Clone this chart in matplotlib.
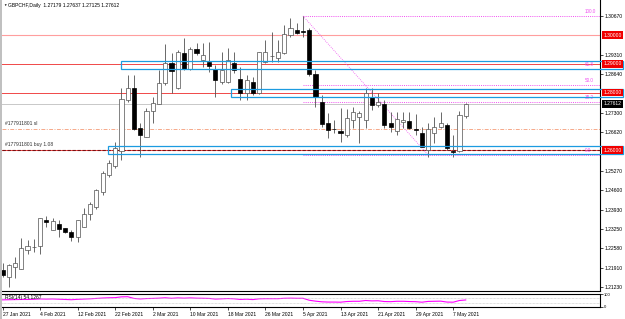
import matplotlib.pyplot as plt
from matplotlib.patches import Rectangle
import matplotlib.transforms as mtransforms

plt.rcParams['font.family'] = ['Liberation Sans', 'DejaVu Sans']

# daily bars, 27 Jan 2021 .. 11 May 2021
opens = [1.21822, 1.21578, 1.21927, 1.21857, 1.22519, 1.22624, 1.22659, 1.23565, 1.23216, 1.23425,
         1.23286, 1.23146, 1.22972, 1.23321, 1.23774, 1.24017, 1.24540, 1.25132, 1.25445, 1.25968,
         1.27744, 1.28162, 1.26769, 1.26455, 1.27361, 1.27605, 1.28337, 1.29033, 1.28162, 1.29381,
         1.28824, 1.29521, 1.29137, 1.29068, 1.28824, 1.28371, 1.28371, 1.29033, 1.28476, 1.27988,
         1.28371, 1.27988, 1.29068, 1.29277, 1.29207, 1.29381, 1.30008, 1.30182, 1.30148, 1.30182,
         1.28650, 1.27674, 1.26943, 1.26734, 1.26664, 1.26525, 1.27047, 1.27152, 1.27047, 1.27849,
         1.27570, 1.27605, 1.26943, 1.26664, 1.26978, 1.27013, 1.26717, 1.26595, 1.26003, 1.26595,
         1.26804, 1.26873, 1.25968, 1.25968, 1.27179]
highs = [1.22066, 1.22031, 1.22275, 1.22937, 1.22868, 1.22903, 1.23634, 1.23704, 1.23634, 1.23565,
         1.23286, 1.23216, 1.23565, 1.23983, 1.24191, 1.24644, 1.25271, 1.25654, 1.26281, 1.28162,
         1.28615, 1.28615, 1.26943, 1.27466, 1.27849, 1.28789, 1.29695, 1.29381, 1.29486, 1.29904,
         1.29590, 1.29730, 1.29730, 1.29764, 1.28963, 1.29416, 1.29555, 1.29416, 1.28894, 1.28615,
         1.28545, 1.29416, 1.29834, 1.30113, 1.29834, 1.30357, 1.30600, 1.30426, 1.30670, 1.30252,
         1.28789, 1.27918, 1.27291, 1.27047, 1.27466, 1.27431, 1.27500, 1.27361, 1.28162, 1.28162,
         1.27988, 1.27744, 1.27326, 1.27326, 1.27326, 1.27326, 1.27257, 1.26804, 1.26943, 1.27152,
         1.27326, 1.26943, 1.26525, 1.27361, 1.27637]
lows = [1.21578, 1.21230, 1.21544, 1.21857, 1.22380, 1.22449, 1.22380, 1.23321, 1.23216, 1.22972,
        1.23112, 1.22833, 1.22798, 1.23321, 1.23565, 1.23948, 1.24435, 1.25062, 1.25376, 1.25654,
        1.27674, 1.26699, 1.25759, 1.26455, 1.26943, 1.27605, 1.28267, 1.27988, 1.28127, 1.28789,
        1.28789, 1.29312, 1.28894, 1.28719, 1.27849, 1.28302, 1.28337, 1.28685, 1.27744, 1.27744,
        1.27918, 1.27953, 1.29033, 1.29068, 1.29068, 1.29346, 1.29939, 1.30043, 1.29939, 1.28580,
        1.27500, 1.26804, 1.26420, 1.26595, 1.26281, 1.26455, 1.26769, 1.26246, 1.26769, 1.27396,
        1.27500, 1.26769, 1.26629, 1.26525, 1.26769, 1.26734, 1.26525, 1.26107, 1.25759, 1.26246,
        1.26769, 1.26003, 1.25759, 1.25933, 1.27125]
closes = [1.21648, 1.21997, 1.22066, 1.22589, 1.22659, 1.22634, 1.23634, 1.23495, 1.23530, 1.23251,
          1.23146, 1.22972, 1.23565, 1.23774, 1.24122, 1.24609, 1.25202, 1.25550, 1.26072, 1.27779,
          1.28162, 1.26734, 1.26525, 1.27361, 1.27640, 1.28337, 1.29033, 1.28754, 1.29416, 1.28824,
          1.29521, 1.29381, 1.29312, 1.28928, 1.28441, 1.28789, 1.29137, 1.28789, 1.27988, 1.28441,
          1.27988, 1.29416, 1.29416, 1.29285, 1.29416, 1.30043, 1.30252, 1.30078, 1.30113, 1.28650,
          1.27849, 1.26908, 1.26699, 1.26717, 1.26595, 1.27117, 1.27326, 1.27291, 1.27988, 1.27570,
          1.27674, 1.26873, 1.26804, 1.27082, 1.27047, 1.26769, 1.26682, 1.26107, 1.26734, 1.26804,
          1.26943, 1.26072, 1.25950, 1.27222, 1.27612]

rsi = [55, 56, 57, 58, 58, 59, 62, 61, 62, 60,
       58, 56, 59, 61, 63, 66, 69, 71, 72, 78,
       79, 66, 62, 65, 66, 68, 71, 67, 70, 68,
       70, 68, 67, 66, 61, 63, 65, 63, 58, 60,
       57, 63, 64, 64, 64, 67, 68, 67, 67, 52,
       45, 40, 38, 38, 37, 42, 44, 44, 50, 47,
       48, 42, 41, 44, 44, 42, 41, 37, 43, 44,
       45, 38, 37, 50, 54.1267]

date_labels = ['27 Jan 2021', '4 Feb 2021', '12 Feb 2021', '22 Feb 2021', '2 Mar 2021',
               '10 Mar 2021', '18 Mar 2021', '26 Mar 2021', '5 Apr 2021', '13 Apr 2021',
               '21 Apr 2021', '29 Apr 2021', '7 May 2021']
date_index = [0, 6, 12, 18, 24, 30, 36, 42, 48, 54, 60, 66, 72]

price_ticks = [1.21230, 1.21910, 1.22580, 1.23250, 1.23930, 1.24600, 1.25270,
               1.26620, 1.27300, 1.28640, 1.29310, 1.30670]

red_levels = [1.30000, 1.29000, 1.28000, 1.26000]
zones = [(18.9, 1.28824, 1.29103), (36.5, 1.27849, 1.28127), (16.9, 1.25864, 1.26142)]
sl_price = 1.26734
fib_start, fib_end = 48, 68
fib_high, fib_low = 1.30670, 1.25830
fib_levels = [0.0, 38.2, 50.0, 61.8, 100.0]

W, H = 625, 319
fig = plt.figure(figsize=(W / 100, H / 100), dpi=100)
ax = fig.add_axes([2 / W, 1 - 291 / H, 598 / W, 291 / H])
axr = fig.add_axes([2 / W, 1 - 307 / H, 598 / W, 13 / H])

n = len(opens)
x = list(range(n))
xl = (-0.08, 95.45)
fs = 3.6

# candles
for i in x:
    o, h, l, c = opens[i], highs[i], lows[i], closes[i]
    ax.vlines(i, l, h, color='#505050', lw=0.6, zorder=3)
    up = c >= o
    hgt = max(abs(c - o), 0.00004)
    ax.bar(i, hgt, bottom=min(o, c), width=0.66,
           color='white' if up else 'black', edgecolor='#505050' if up else 'black',
           lw=0.5, zorder=4)

# horizontal levels
ax.axhline(red_levels[0], color='#FF9E9E', lw=0.8, zorder=1)
ax.axhline(red_levels[1], color='#F04848', lw=0.7, zorder=1)
ax.axhline(red_levels[2], color='#F04848', lw=0.7, zorder=1)
ax.axhline(red_levels[3], color='#F04848', lw=0.7, zorder=1)
ax.axhline(red_levels[3], color='#7A1010', lw=0.8, ls=(0, (3, 1.5)), zorder=2)
ax.axhline(closes[-1], color='#C8C8C8', lw=0.7, zorder=1)
ax.axhline(sl_price, color='#F6A98A', lw=0.7, ls=(0, (4, 1.5, 1, 1.5)), zorder=1)

# zones
for left, lo, hi in zones:
    ax.add_patch(Rectangle((left, lo), 99.2 - left, hi - lo, fill=False,
                           ec='#1C9BE0', lw=0.9, zorder=5, clip_on=False))

# fibo
for lv in fib_levels:
    p = fib_low + (fib_high - fib_low) * lv / 100
    ax.hlines(p, fib_start, xl[1], color='#F050F0', lw=0.7, ls=(0, (1, 1.2)), zorder=2)
    ax.text(93.0, p + 0.0008, '%.1f' % lv, color='#F050F0', fontsize=3.3, ha='left', va='bottom')
ax.plot([fib_start, fib_end], [fib_high, fib_low], color='#F050F0', lw=0.6,
        ls=(0, (1, 1.5)), zorder=2)

ax.text(0.4, sl_price + 0.0012, '#177911801 sl', fontsize=fs, color='#303030', va='bottom')
ax.text(0.4, red_levels[3] + 0.0012, '#177911801 buy 1.08', fontsize=fs, color='#303030', va='bottom')

ax.set_xlim(*xl)
ax.set_ylim(1.21092, 1.31227)
ax.yaxis.tick_right()
ax.set_yticks(price_ticks)
ax.set_yticklabels(['%.5f' % p for p in price_ticks])
ax.tick_params(axis='y', length=2, width=0.5, labelsize=fs, pad=1)
ax.set_xticks([])
for s in ['top', 'left']:
    ax.spines[s].set_visible(False)
ax.spines['right'].set_linewidth(0.8)
ax.spines['bottom'].set_linewidth(0.8)

# right labels for levels
tr = mtransforms.blended_transform_factory(ax.transAxes, ax.transData)
for p in red_levels:
    ax.text(1.006, p, '%.5f' % p, transform=tr, fontsize=fs, color='white', va='center',
            bbox=dict(boxstyle='square,pad=0.25', fc='#F00000', ec='none'), zorder=6)
ax.text(1.006, closes[-1], '%.5f' % closes[-1], transform=tr, fontsize=fs, color='white',
        va='center', bbox=dict(boxstyle='square,pad=0.25', fc='black', ec='none'), zorder=6)

fig.text(3 / W, 1 - 5 / H, '\u25bc', fontsize=2.5, va='center')
fig.text(8 / W, 1 - 5 / H, 'GBPCHF,Daily  1.27179 1.27637 1.27125 1.27612', fontsize=fs, va='center')
fig.patches.append(Rectangle((0, 0), 2 / W, 1, transform=fig.transFigure, fc='#C0C0C0', ec='none'))

# RSI panel
axr.plot(x, rsi, color='#FF00FF', lw=0.8)
axr.axhline(70, color='#C0C0C0', lw=0.5, ls=(0, (1, 1)))
axr.axhline(30, color='#C0C0C0', lw=0.5, ls=(0, (1, 1)))
axr.text(0.4, 92, 'RSI(14) 54.1267', fontsize=fs, va='top')
axr.set_xlim(*xl)
axr.set_ylim(0, 100)
axr.yaxis.tick_right()
axr.set_yticks([100, 0])
axr.set_yticklabels(['100', '0'])
axr.tick_params(axis='y', length=2, width=0.5, labelsize=3.0, pad=1)
axr.set_xticks(date_index)
axr.set_xticklabels(date_labels, ha='left')
axr.tick_params(axis='x', length=2, width=0.5, labelsize=fs, pad=1.5)
axr.spines['left'].set_visible(False)
for s in ['top', 'right', 'bottom']:
    axr.spines[s].set_linewidth(0.8)

fig.savefig('out.png', dpi=100)
